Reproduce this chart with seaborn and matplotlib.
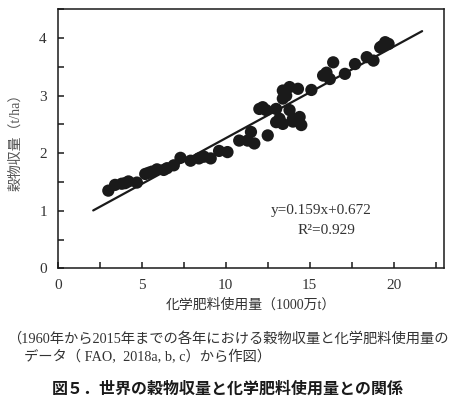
import numpy as np
import pandas as pd
import matplotlib
matplotlib.use("Agg")
import matplotlib.pyplot as plt
import seaborn as sns
from matplotlib.ticker import MultipleLocator

# 化学肥料使用量 (1000万t) と 穀物収量 (t/ha), 1960-2015 の各年
fertilizer = [3.0, 3.4, 3.8, 4.0, 4.2, 4.7, 5.2, 5.4, 5.6, 5.9,
              6.3, 6.5, 6.9, 7.3, 7.9, 8.4, 8.7, 9.1, 9.6, 10.1,
              10.8, 11.3, 11.5, 11.7, 12.0, 12.2, 12.4, 12.5, 13.0, 13.0,
              13.2, 13.4, 13.4, 13.4, 13.6, 13.8, 13.8, 14.0, 14.0, 14.3,
              14.4, 14.5, 15.1, 15.8, 16.0, 16.2, 16.4, 17.1, 17.7, 18.4,
              18.8, 19.2, 19.3, 19.5, 19.7]
grain_yield = [1.35, 1.45, 1.47, 1.48, 1.51, 1.49, 1.64, 1.66, 1.68, 1.72,
               1.71, 1.74, 1.79, 1.92, 1.87, 1.91, 1.94, 1.91, 2.04, 2.02,
               2.22, 2.22, 2.37, 2.17, 2.77, 2.80, 2.75, 2.31, 2.77, 2.54,
               2.60, 2.51, 2.95, 3.09, 3.00, 3.15, 2.75, 2.60, 2.55, 3.12,
               2.63, 2.49, 3.10, 3.35, 3.40, 3.29, 3.58, 3.38, 3.55, 3.67,
               3.61, 3.84, 3.86, 3.93, 3.90]

slope, intercept, r2 = 0.159, 0.672, 0.929
fit_range = [2.1, 21.7]

df = pd.DataFrame({"fert": fertilizer, "yield": grain_yield})
fit = pd.DataFrame({"fert": fit_range,
                    "yield": [slope * v + intercept for v in fit_range]})

sns.set_style("white")
plt.rcParams["font.family"] = ["Liberation Serif", "Noto Sans CJK JP"]

fig = plt.figure(figsize=(4.65, 4.09), dpi=100)
ax = fig.add_axes([0.1247, 0.344, 0.830, 0.633])

sns.lineplot(data=fit, x="fert", y="yield", color="#1a1a1a",
             linewidth=1.6, ax=ax)
sns.scatterplot(data=df, x="fert", y="yield", color="#1a1a1a", s=78,
                edgecolor="none", ax=ax, zorder=3)

ax.set_xlim(0, 23)
ax.set_ylim(0, 4.5)
ax.xaxis.set_major_locator(MultipleLocator(5))
ax.xaxis.set_minor_locator(MultipleLocator(2.5))
ax.yaxis.set_major_locator(MultipleLocator(1))
ax.yaxis.set_minor_locator(MultipleLocator(0.5))
ax.tick_params(which="both", direction="in", length=4, width=1.1,
               bottom=True, left=True, top=False, right=False,
               color="#1a1a1a", labelsize=11, labelcolor="#333333", pad=8)
for sp in ax.spines.values():
    sp.set_color("#1a1a1a")
    sp.set_linewidth(1.1)

ax.set_xlabel("化学肥料使用量（1000万t）", fontsize=10, color="#333333", labelpad=4)
ax.set_ylabel("穀物収量（t/ha）", fontsize=10, color="#555555", labelpad=12)

ax.text(15.7, 1.0, f"y={slope}x+{intercept}", fontsize=11, color="#333333",
        ha="center", va="center")
ax.text(16.0, 0.65, f"R²={r2}", fontsize=11, color="#333333",
        ha="center", va="center")

fig.text(0.49, 0.173, "（1960年から2015年までの各年における穀物収量と化学肥料使用量の",
         fontsize=10.3, color="#333333", ha="center", va="center")
fig.text(0.052, 0.127, "データ（ FAO,  2018a, b, c）から作図）",
         fontsize=10.3, color="#333333", ha="left", va="center")
fig.text(0.49, 0.049, "図５．世界の穀物収量と化学肥料使用量との関係",
         fontsize=11.5, fontweight="bold", family=["Noto Sans CJK JP"],
         color="#1a1a1a", ha="center", va="center")

fig.savefig("out.png", dpi=100)
